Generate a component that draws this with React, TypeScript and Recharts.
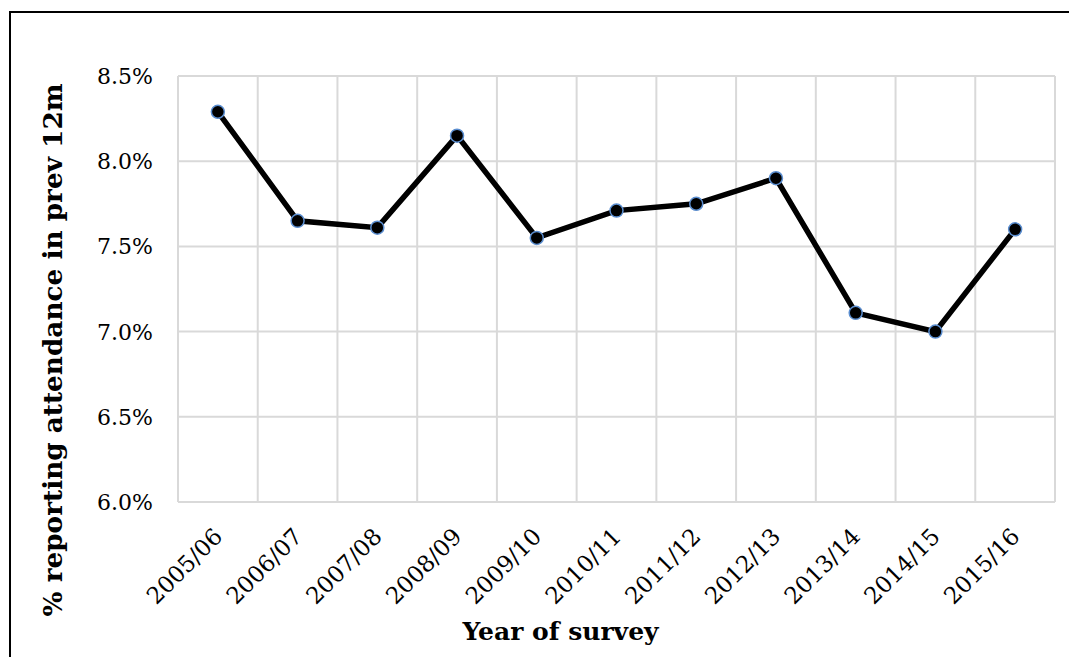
import React from 'react';
import { LineChart, Line, XAxis, YAxis, CartesianGrid, Label } from 'recharts';

const categories = ['2005/06', '2006/07', '2007/08', '2008/09', '2009/10', '2010/11', '2011/12', '2012/13', '2013/14', '2014/15', '2015/16'];
const attendance = [8.29, 7.65, 7.61, 8.15, 7.55, 7.71, 7.75, 7.9, 7.11, 7.0, 7.6];
const yTicks = [6.0, 6.5, 7.0, 7.5, 8.0, 8.5];
const gridTicks = [0, 1, 2, 3, 4, 5, 6, 7, 8, 9, 10, 11];

const data = categories.map((year, i) => ({ year, slot: i, value: attendance[i] }));

const FONT = '"DejaVu Serif", "Liberation Serif", serif';

const XTick = (props: any) => {
  const { x, y, payload } = props;
  return (
    <g transform={`translate(${x + 6},${y + 36})`}>
      <text textAnchor="end" transform="rotate(-45)" fontFamily={FONT} fontSize={23} fill="#000">
        {payload.value}
      </text>
    </g>
  );
};

const YTick = (props: any) => {
  const { x, y, payload } = props;
  return (
    <text x={x} y={y} dy="0.36em" textAnchor="end" fontFamily={FONT} fontSize={22} fill="#000">
      {Number(payload.value).toFixed(1) + '%'}
    </text>
  );
};

const YTitle = (props: any) => {
  const { viewBox } = props;
  const cx = viewBox.x + 52;
  const cy = viewBox.y + viewBox.height / 2 + 61;
  return (
    <text x={cx} y={cy} transform={`rotate(-90, ${cx}, ${cy})`} textAnchor="middle" dominantBaseline="central" fontFamily={FONT} fontWeight="bold" fontSize={26.3} fill="#000">
      % reporting attendance in prev 12m
    </text>
  );
};

const XTitle = (props: any) => {
  const { viewBox } = props;
  const cx = viewBox.x + viewBox.width / 2 - 56;
  const cy = viewBox.y + 138;
  return (
    <text x={cx} y={cy} textAnchor="middle" fontFamily={FONT} fontWeight="bold" fontSize={25} fill="#000">
      Year of survey
    </text>
  );
};

export default function App() {
  return (
    <div style={{ position: 'relative', width: 1069, height: 657, background: '#fff' }}>
      <style>{`body{margin:0;overflow:hidden;}`}</style>
      <LineChart width={1069} height={657} data={data} margin={{ top: 76, right: 14, left: 0, bottom: 0 }}>
        <CartesianGrid xAxisId="grid" stroke="#d9d9d9" strokeWidth={2} />
        <XAxis
          xAxisId="grid"
          dataKey="slot"
          type="number"
          domain={[0, categories.length]}
          ticks={gridTicks}
          allowDataOverflow
          hide
        />
        <XAxis
          dataKey="year"
          scale="band"
          height={155}
          tick={<XTick />}
          tickLine={false}
          axisLine={false}
          tickSize={0}
          tickMargin={0}
          interval={0}
        >
          <Label content={<XTitle />} />
        </XAxis>
        <YAxis
          width={178}
          domain={[6, 8.5]}
          ticks={yTicks}
          allowDataOverflow
          tick={<YTick />}
          tickLine={false}
          axisLine={false}
          tickSize={0}
          tickMargin={25}
        >
          <Label content={<YTitle />} />
        </YAxis>
        <Line
          dataKey="value"
          stroke="#000"
          strokeWidth={5.5}
          dot={{ r: 6.5, fill: '#000', stroke: '#5b8ed0', strokeWidth: 1.5 }}
          activeDot={false}
          isAnimationActive={false}
        />
      </LineChart>
      <div
        style={{
          position: 'absolute',
          left: 9,
          top: 11,
          width: 1060,
          height: 646,
          borderLeft: '2px solid #000',
          borderTop: '2px solid #000',
          boxSizing: 'border-box',
          pointerEvents: 'none',
        }}
      />
    </div>
  );
}
